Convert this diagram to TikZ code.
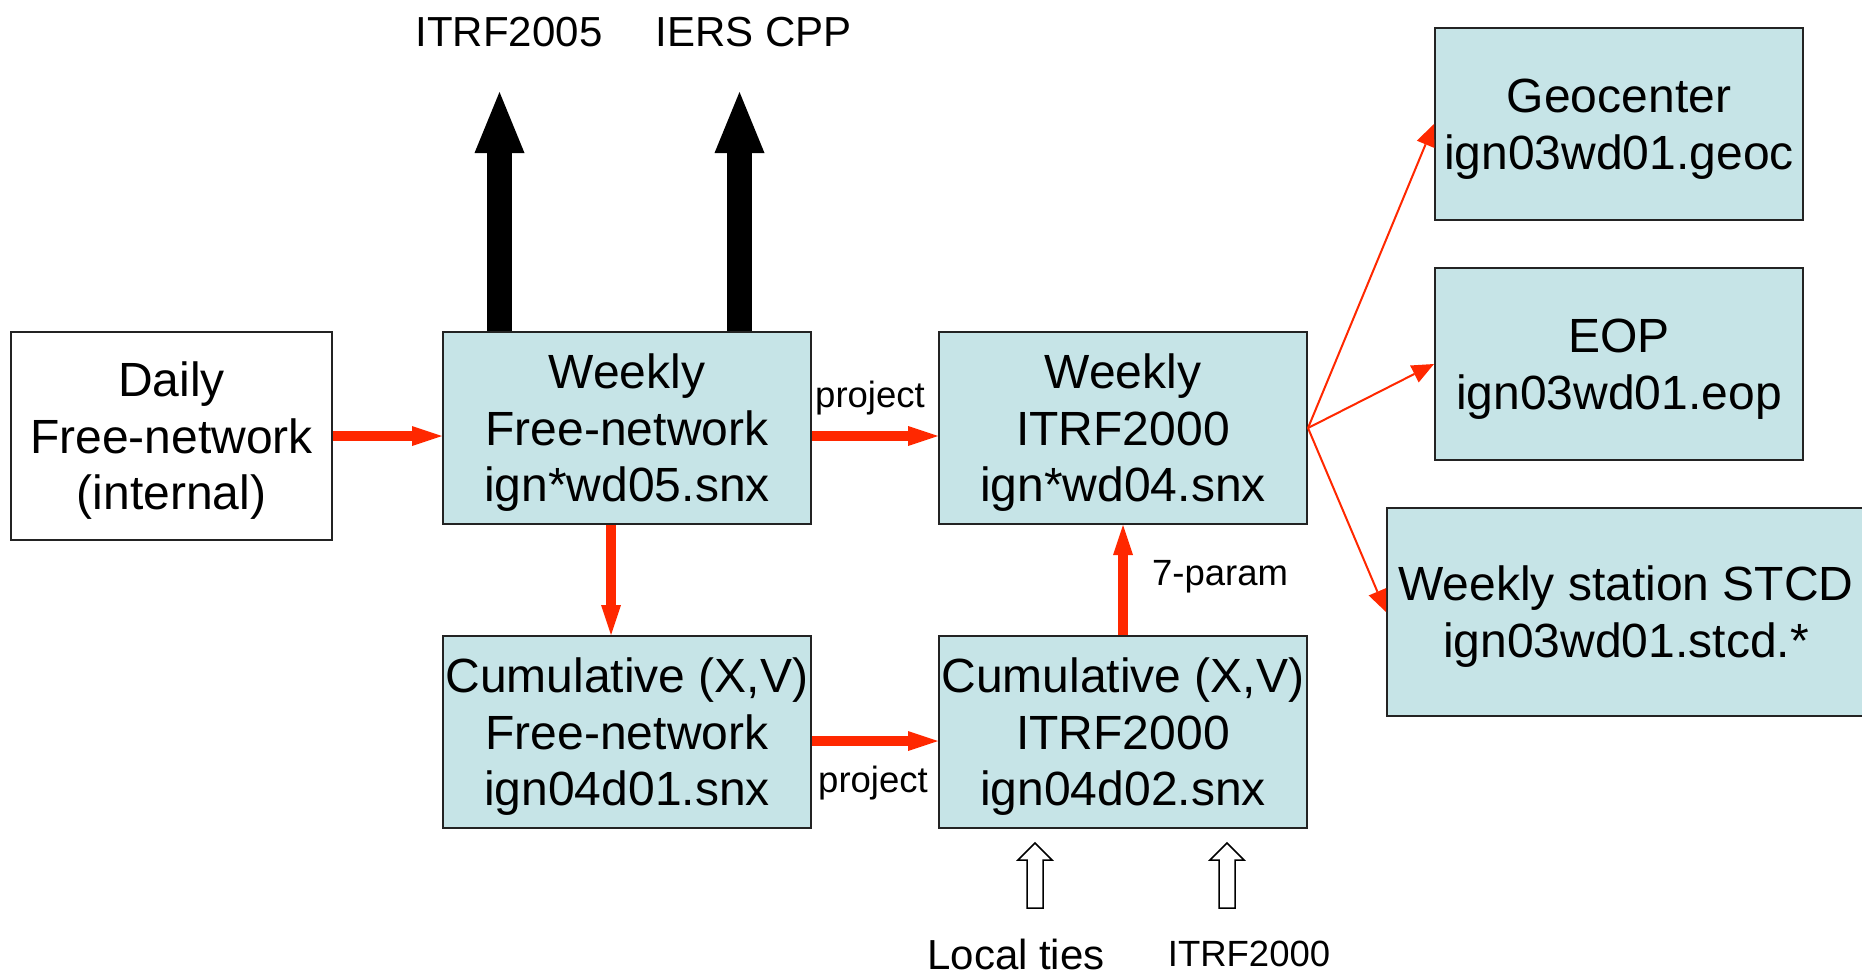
\documentclass[tikz,border=0pt]{standalone}
\usepackage{fontspec}
\setmainfont{Liberation Sans}
\usetikzlibrary{arrows.meta}
\definecolor{boxfill}{RGB}{198,228,231}
\definecolor{arrred}{RGB}{255,40,0}
\definecolor{edgecol}{RGB}{35,35,35}
\newcommand{\boxstrut}{\rule{0pt}{44pt}}
\begin{document}
\begin{tikzpicture}[x=1pt,y=-1pt,
  box/.style={draw=edgecol,line width=2pt,fill=boxfill,inner sep=0pt,align=center,
    font=\fontsize{48}{56.5}\selectfont,minimum width=368pt,minimum height=192pt},
  redthick/.style={draw=arrred,line width=10pt,-{Triangle[length=30pt,width=20pt,line width=0pt]}},
  redthin/.style={draw=arrred,line width=2pt,-{Triangle[length=22pt,width=19pt,line width=0pt]}},
  blackthick/.style={draw=black,line width=25pt,-{Triangle[length=61pt,width=50pt,line width=0pt]}},
  hollow/.style={draw=black,line width=1.5pt,fill=white,line join=miter},
  biglabel/.style={anchor=base,inner sep=0pt,font=\fontsize{42}{50}\selectfont},
  smalllabel/.style={anchor=base,inner sep=0pt,font=\fontsize{36.5}{44}\selectfont}]
\useasboundingbox (0,0) rectangle (1862,979);
\clip (0,0) rectangle (1862,979);

% boxes
\node[box,fill=white,minimum width=321pt,minimum height=208pt] (daily) at (171.5,436) {\boxstrut Daily\\Free-network\\(internal)};
\node[box] (wfree) at (627,428) {\boxstrut Weekly\\Free-network\\ign*wd05.snx};
\node[box] (witrf) at (1123,428) {\boxstrut Weekly\\ITRF2000\\ign*wd04.snx};
\node[box] (cfree) at (627,732) {\boxstrut Cumulative (X,V)\\Free-network\\ign04d01.snx};
\node[box] (citrf) at (1123,732) {\boxstrut Cumulative (X,V)\\ITRF2000\\ign04d02.snx};
\node[box] (geo) at (1619,124) {\boxstrut Geocenter\\ign03wd01.geoc};
\node[box] (eop) at (1619,364) {\boxstrut EOP\\ign03wd01.eop};
\node[box,minimum width=478pt,minimum height=208pt] (stcd) at (1626,612) {\boxstrut Weekly station STCD\\ign03wd01.stcd.*};

% red flow arrows
\draw[redthick] (daily.east) -- (daily.east -| wfree.west);
\draw[redthick] ([yshift=-8pt]wfree.east) -- ([yshift=-8pt]witrf.west);
\draw[redthick] ([xshift=-16pt]wfree.south) -- ([xshift=-16pt]cfree.north);
\draw[redthick] ([yshift=-9pt]cfree.east) -- ([yshift=-9pt]citrf.west);
\draw[redthick] (citrf.north) -- (witrf.south);
\draw[redthin] (witrf.east) -- (geo.west);
\draw[redthin] (witrf.east) -- (eop.west);
\draw[redthin] (witrf.east) -- (stcd.west);

% black output arrows
\coordinate (out1) at (499.5,92);
\coordinate (out2) at (739.5,92);
\draw[blackthick] (wfree.north -| out1) -- (out1);
\draw[blackthick] (wfree.north -| out2) -- (out2);

% hollow input arrows
\draw[hollow] (1035,843) -- ++(17,17) -- ++(-9,0) -- ++(0,48) -- ++(-16,0) -- ++(0,-48) -- ++(-9,0) -- cycle;
\draw[hollow] (1227,843) -- ++(17,17) -- ++(-9,0) -- ++(0,48) -- ++(-16,0) -- ++(0,-48) -- ++(-9,0) -- cycle;

% labels
\node[biglabel] (lab1) at (509,47) {ITRF2005};
\node[biglabel] (lab2) at (754,47) {IERS CPP};
\node[smalllabel] (proj1) at (870,407) {project};
\node[smalllabel] (proj2) at (873,792) {project};
\node[smalllabel] (seven) at (1220,585) {7-param};
\node[biglabel] (ties) at (1016,969) {Local ties};
\node[smalllabel] (itrfin) at (1249,966) {ITRF2000};
\end{tikzpicture}
\end{document}
